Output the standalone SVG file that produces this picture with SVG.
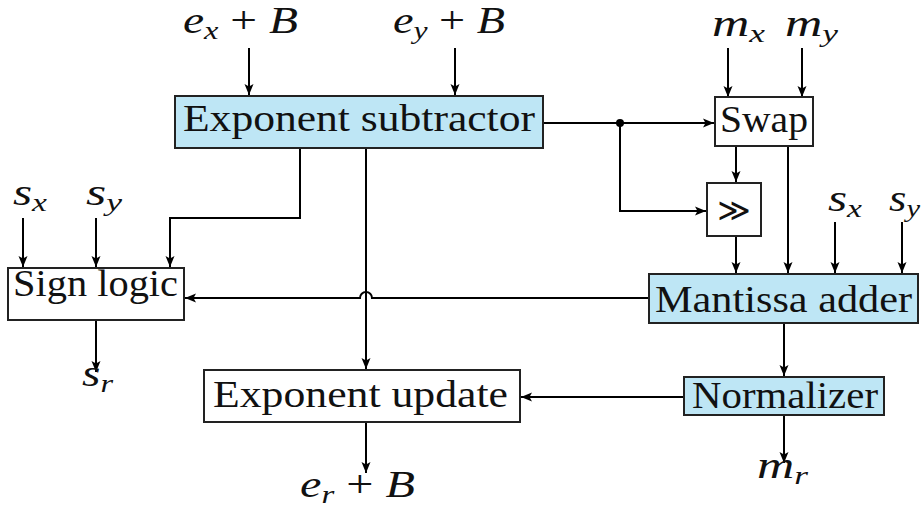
<svg xmlns="http://www.w3.org/2000/svg" width="922" height="508" viewBox="0 0 922 508" font-family="Liberation Serif, DejaVu Serif, Noto Serif, FreeSerif, Tinos, Times New Roman, Times, serif">
<defs>
<marker id="ah" markerUnits="userSpaceOnUse" markerWidth="12" markerHeight="10" refX="11" refY="5" orient="auto">
<path d="M0,0.5 L11,5 L0,9.5 L2.5,5 z" fill="#000"/>
</marker>
</defs>
<style>
.box{stroke:#222;stroke-width:2;fill:#fff}
.blue{fill:#bee6f5}
.lbl{font-size:37px;fill:#111}
.m{font-size:38px;fill:#111;font-style:italic}
.sub{font-size:26px}
.up{font-style:normal}
.c{fill:none;stroke:#000;stroke-width:2}
</style>
<rect width="922" height="508" fill="#fff"/>
<g id="connectors">
<path class="c" d="M249,48 V95" marker-end="url(#ah)"/>
<path class="c" d="M455,48 V95" marker-end="url(#ah)"/>
<path class="c" d="M728,48 V97" marker-end="url(#ah)"/>
<path class="c" d="M802,48 V97" marker-end="url(#ah)"/>
<path class="c" d="M543,123 H714" marker-end="url(#ah)"/>
<path class="c" d="M620,123 V211 H706" marker-end="url(#ah)"/>
<circle cx="620" cy="123" r="4" fill="#000"/>
<path class="c" d="M736,146 V182" marker-end="url(#ah)"/>
<path class="c" d="M736,236 V273" marker-end="url(#ah)"/>
<path class="c" d="M788,146 V273" marker-end="url(#ah)"/>
<path class="c" d="M835,222 V273" marker-end="url(#ah)"/>
<path class="c" d="M902,222 V273" marker-end="url(#ah)"/>
<path class="c" d="M300,148 V218 H170 V267" marker-end="url(#ah)"/>
<path class="c" d="M23,218 V267" marker-end="url(#ah)"/>
<path class="c" d="M96,218 V267" marker-end="url(#ah)"/>
<path class="c" d="M649,298 H372 A6,6 0 0 0 360,298 H185" marker-end="url(#ah)"/>
<path class="c" d="M366,148 V369" marker-end="url(#ah)"/>
<path class="c" d="M96,320 V372" marker-end="url(#ah)"/>
<path class="c" d="M784,323 V376" marker-end="url(#ah)"/>
<path class="c" d="M784,415 V463" marker-end="url(#ah)"/>
<path class="c" d="M684,397 H521" marker-end="url(#ah)"/>
<path class="c" d="M366,422 V473" marker-end="url(#ah)"/>
</g>
<g id="exp-sub">
<rect class="box blue" x="175" y="96" width="368" height="52"/>
<text class="lbl" x="183" y="131" textLength="352" lengthAdjust="spacingAndGlyphs">Exponent subtractor</text>
</g>
<g id="swap">
<rect class="box" x="715" y="97" width="98" height="49"/>
<text class="lbl" x="720" y="132" textLength="88" lengthAdjust="spacingAndGlyphs">Swap</text>
</g>
<g id="shift">
<rect class="box" x="707" y="183" width="54" height="53"/>
<text x="734" y="221" text-anchor="middle" font-family="DejaVu Sans, sans-serif" font-size="32" fill="#111">≫</text>
</g>
<g id="sign">
<rect class="box" x="8" y="268" width="176" height="52"/>
<text class="lbl" x="13" y="296" textLength="165" lengthAdjust="spacingAndGlyphs">Sign logic</text>
</g>
<g id="mant">
<rect class="box blue" x="649" y="274" width="269" height="49"/>
<text class="lbl" x="655" y="312" textLength="257" lengthAdjust="spacingAndGlyphs">Mantissa adder</text>
</g>
<g id="norm">
<rect class="box blue" x="684" y="377" width="200" height="38"/>
<text class="lbl" x="692" y="408" textLength="186" lengthAdjust="spacingAndGlyphs">Normalizer</text>
</g>
<g id="exp-upd">
<rect class="box" x="204" y="370" width="316" height="52"/>
<text class="lbl" x="213" y="407" textLength="295" lengthAdjust="spacingAndGlyphs">Exponent update</text>
</g>
<g id="labels">
<text class="m" x="183" y="33" textLength="115" lengthAdjust="spacingAndGlyphs">e<tspan class="sub" dy="6">x</tspan><tspan class="up" dy="-6"> + </tspan>B</text>
<text class="m" x="393" y="33" textLength="112" lengthAdjust="spacingAndGlyphs">e<tspan class="sub" dy="6">y</tspan><tspan class="up" dy="-6"> + </tspan>B</text>
<text class="m" x="712" y="36" textLength="53" lengthAdjust="spacingAndGlyphs">m<tspan class="sub" dy="6">x</tspan></text>
<text class="m" x="785" y="36" textLength="53" lengthAdjust="spacingAndGlyphs">m<tspan class="sub" dy="6">y</tspan></text>
<text class="m" x="13" y="205" textLength="34" lengthAdjust="spacingAndGlyphs">s<tspan class="sub" dy="6">x</tspan></text>
<text class="m" x="86" y="205" textLength="36" lengthAdjust="spacingAndGlyphs">s<tspan class="sub" dy="6">y</tspan></text>
<text class="m" x="828" y="211" textLength="34" lengthAdjust="spacingAndGlyphs">s<tspan class="sub" dy="6">x</tspan></text>
<text class="m" x="889" y="211" textLength="31" lengthAdjust="spacingAndGlyphs">s<tspan class="sub" dy="6">y</tspan></text>
<text class="m" x="82" y="386" textLength="31" lengthAdjust="spacingAndGlyphs">s<tspan class="sub" dy="6">r</tspan></text>
<text class="m" x="757" y="478" textLength="51" lengthAdjust="spacingAndGlyphs">m<tspan class="sub" dy="6">r</tspan></text>
<text class="m" x="300" y="497" textLength="115" lengthAdjust="spacingAndGlyphs">e<tspan class="sub" dy="6">r</tspan><tspan class="up" dy="-6"> + </tspan>B</text>
</g>
</svg>
